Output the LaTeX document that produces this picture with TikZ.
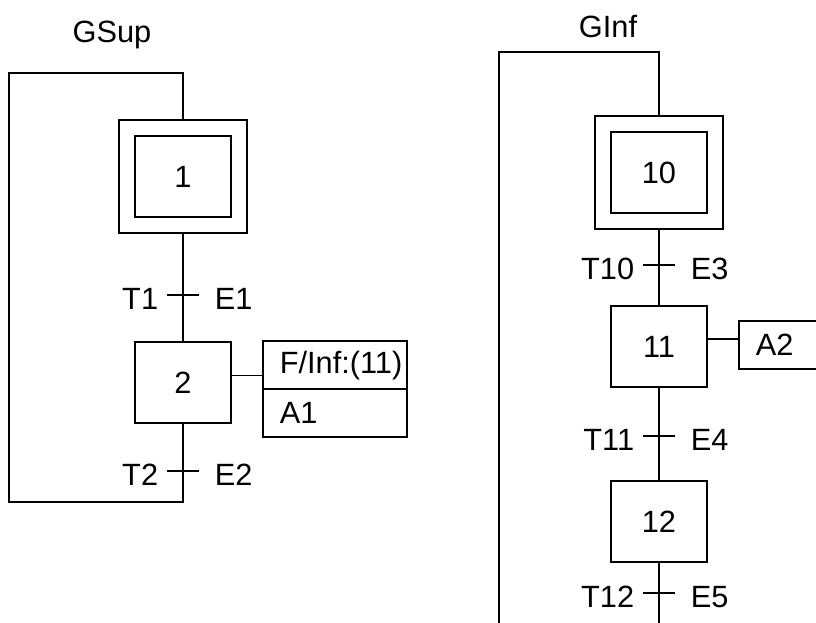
\documentclass[tikz,border=0pt]{standalone}
\usepackage{fontspec}
\setmainfont{Liberation Sans}
\usetikzlibrary{positioning}

\begin{document}
\begin{tikzpicture}[x=0.02cm, y=-0.02cm, line width=1pt,
    font=\fontsize{17.5}{21}\selectfont,
    stepbox/.style={draw, minimum width=1.92cm, minimum height=1.62cm, inner sep=0pt},
    initstep/.style={draw, double, double distance=0.285cm, outer sep=0.178cm,
        minimum width=2.24cm, minimum height=1.94cm, inner sep=0pt},
    actbox/.style={draw, text width=2.2cm, inner xsep=0.34cm, inner ysep=0pt,
        outer sep=0pt, minimum height=0.96cm, align=left},
    tlabel/.style={inner sep=0pt, yshift=-0.08cm}]
            \useasboundingbox (0,0) rectangle (816,623);
            \clip (0,0) rectangle (816,623);

            % Titles
            \node[anchor=base] (gsup) at (112,42) {GSup};
            \node[anchor=base] (ginf) at (608,37) {GInf};

            % GSup steps
            \node[initstep] (s1) at (183,176.5) {1};
            \node[stepbox] (s2) at (183,382.5) {2};
            \coordinate (t1) at (183,295);
            \coordinate (t2) at (183,471);

            % GSup action
            \node[actbox, anchor=north west] (a1f) at ([xshift=0.62cm]s2.north east) {F/Inf:(11)};
            \node[actbox, below=0pt of a1f] (a1a) {A1};
            \draw ([yshift=0.14cm]s2.east) -- ([yshift=0.14cm]s2.east -| a1f.west);

            % GSup links
            \draw (s1.south) -- (t1) -- (s2.north);
            \draw (s2.south) -- (t2) -- ++(0,31) -| (9,73) -| (s1.north);

            % GInf steps
            \node[initstep] (s10) at (659,172.5) {10};
            \node[stepbox] (s11) at (659,346.5) {11};
            \node[stepbox] (s12) at (659,521.5) {12};
            \coordinate (t10) at (659,265);
            \coordinate (t11) at (659,436);
            \coordinate (t12) at (659,593);

            % GInf action
            \node[actbox, anchor=north west] (a2) at ([xshift=0.62cm, yshift=-0.32cm]s11.north east) {A2};
            \draw ([yshift=0.15cm]s11.east) -- ([yshift=0.15cm]s11.east -| a2.west);

            % GInf links
            \draw (s10.south) -- (t10) -- (s11.north);
            \draw (s11.south) -- (t11) -- (s12.north);
            \draw (s12.south) -- (t12) -- ++(0,60) -| (499,52) -| (s10.north);

            % Transitions
            \foreach \t/\tl/\el in {t1/T1/E1, t2/T2/E2, t10/T10/E3, t11/T11/E4, t12/T12/E5} {
                \draw ([xshift=-0.32cm]\t) -- ([xshift=0.32cm]\t);
                \node[tlabel, anchor=east] (\t-T) at ([xshift=-0.48cm]\t) {\tl};
                \node[tlabel, anchor=west] (\t-E) at ([xshift=0.62cm]\t) {\el};
            }
        \end{tikzpicture}
\end{document}
